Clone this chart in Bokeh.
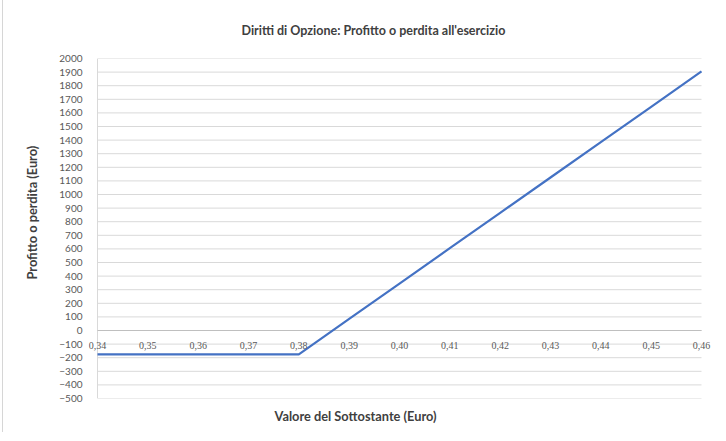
from bokeh.plotting import figure
from bokeh.models import Title, Range1d, ColumnDataSource, LabelSet, FixedTicker
from bokeh.embed import file_html
from bokeh.resources import INLINE

# Data
x_values = [0.34, 0.35, 0.36, 0.37, 0.38, 0.39, 0.40, 0.41, 0.42, 0.43, 0.44, 0.45, 0.46]
x_labels = ["0,34", "0,35", "0,36", "0,37", "0,38", "0,39", "0,40",
            "0,41", "0,42", "0,43", "0,44", "0,45", "0,46"]
profit = [-175, -175, -175, -175, -175, 85, 345, 605, 865, 1125, 1385, 1645, 1905]
y_ticks = [-500, -400, -300, -200, -100, 0, 100, 200, 300, 400, 500, 600, 700, 800,
           900, 1000, 1100, 1200, 1300, 1400, 1500, 1600, 1700, 1800, 1900, 2000]

FONT = "Lato"
TXT = "#404040"
TICK = "#595959"
GRID = "#d9d9d9"

# Layout (pixels, canvas coordinates)
W, H = 713, 436
AREA_L, AREA_R = 94, 698        # where the first / last category sit
AREA_T, AREA_B = 61, 401        # top / bottom of the value scale
PAD_L, PAD_R = 9, 12            # extra frame room so end tick labels are not clipped
span = x_values[-1] - x_values[0]
unit = span / (AREA_R - AREA_L)

p = figure(width=W, height=H, output_backend="svg", toolbar_location=None,
           x_range=Range1d(x_values[0] - PAD_L * unit, x_values[-1] + PAD_R * unit),
           y_range=Range1d(y_ticks[0], y_ticks[-1]),
           min_border_left=AREA_L - PAD_L, min_border_right=W - AREA_R - PAD_R,
           min_border_top=AREA_T, min_border_bottom=H - AREA_B,
           styles={"margin-top": "-4px", "margin-left": "2px", "margin-bottom": "-8px",
                   "border-left": "1px solid #d6d6d6", "border-top": "1px solid #d6d6d6"})
p.outline_line_color = None
p.background_fill_color = "white"
p.border_fill_color = "white"

# Title
p.title = Title(text="Diritti di Opzione: Profitto o perdita all'esercizio",
                align="left", offset=144 + PAD_L, standoff=41,
                text_font=FONT, text_font_size="12.5px", text_font_style="bold",
                text_color=TXT)

# X axis title
p.add_layout(Title(text="Valore del Sottostante (Euro)", align="left", offset=177 + PAD_L,
                   standoff=15, text_font=FONT, text_font_size="12.8px",
                   text_font_style="bold", text_color=TXT), "below")

# Gridlines, plot-area left edge and zero line, spanning only the category extent
n = len(y_ticks)
p.segment(x0=[x_values[0]] * n, x1=[x_values[-1]] * n, y0=y_ticks, y1=y_ticks,
          line_color=GRID, line_width=1)
p.segment(x0=[x_values[0]], x1=[x_values[0]], y0=[y_ticks[0]], y1=[y_ticks[-1]],
          line_color=GRID, line_width=1)
p.segment(x0=[x_values[0]], x1=[x_values[-1]], y0=[0], y1=[0],
          line_color="#bfbfbf", line_width=1)

# Line
p.line(x_values, profit, line_color="#4472C4", line_width=2.2)

# X tick labels at the zero line
p.xaxis.visible = False
src = ColumnDataSource(data=dict(x=x_values, y=[0] * len(x_values), text=x_labels))
p.add_layout(LabelSet(x="x", y="y", text="text", source=src, y_offset=-15,
                      text_align="center", text_baseline="middle",
                      text_font=FONT, text_font_size="10px", text_color=TICK))

# Y axis
p.yaxis.ticker = FixedTicker(ticks=y_ticks)
p.yaxis.axis_line_color = None
p.yaxis.major_tick_line_color = None
p.yaxis.minor_tick_line_color = None
p.yaxis.major_label_standoff = 0
p.yaxis.major_label_text_font = FONT
p.yaxis.major_label_text_font_size = "10px"
p.yaxis.major_label_text_color = TICK

# Y axis title
p.add_layout(Title(text="Profitto o perdita (Euro)", align="left", offset=119,
                   standoff=34, text_font=FONT, text_font_size="12.8px",
                   text_font_style="bold", text_color=TXT), "left")

p.xgrid.grid_line_color = None
p.ygrid.grid_line_color = None

open("out.html", "w").write(file_html(p, INLINE))
